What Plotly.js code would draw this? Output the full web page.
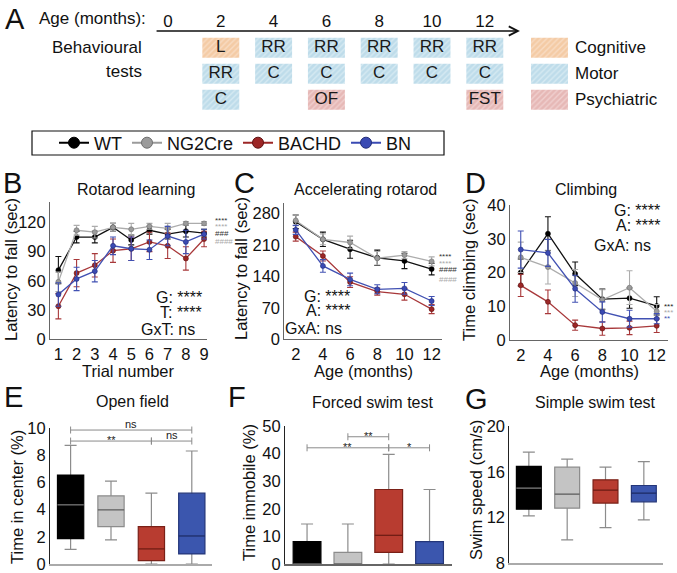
<!DOCTYPE html>
<html><head><meta charset="utf-8">
<script src="https://cdn.plot.ly/plotly-3.0.1.min.js"></script>
<style>html,body{margin:0;padding:0;background:#fff}#chart{width:677px;height:573px}</style>
</head><body><div id="chart"></div>
<script>
// ---------------- DATA ----------------
// Panel A: timeline of behavioural tests
const ageTicks = [0, 2, 4, 6, 8, 10, 12];
const testMonth = [2, 2, 2, 4, 4, 6, 6, 6, 8, 8, 10, 10, 12, 12, 12];
const testRow = [1, 2, 3, 1, 2, 1, 2, 3, 1, 2, 1, 2, 1, 2, 3];
const testLabel = ['L', 'RR', 'C', 'RR', 'C', 'RR', 'C', 'OF', 'RR', 'C', 'RR', 'C', 'RR', 'C', 'FST'];
const testType = ['Cognitive', 'Motor', 'Motor', 'Motor', 'Motor', 'Motor', 'Motor', 'Psychiatric',
                  'Motor', 'Motor', 'Motor', 'Motor', 'Motor', 'Motor', 'Psychiatric'];
const testCategories = ['Cognitive', 'Motor', 'Psychiatric'];

const genotypes = ['WT', 'NG2Cre', 'BACHD', 'BN'];

// Panel B: rotarod learning (sec)
const trials = [1, 2, 3, 4, 5, 6, 7, 8, 9];
const rrlWT = [71, 105, 105, 115, 102, 112, 108, 111, 109];
const rrlWTerr = [14, 6, 6, 4, 5, 4, 5, 6, 4];
const rrlNG = [59, 112, 110, 115, 113, 116, 114, 119, 119];
const rrlNGerr = [10, 5, 6, 4, 6, 3, 5, 2, 2];
const rrlBA = [34, 68, 76, 91, 93, 100, 96, 83, 103];
const rrlBAerr = [13, 14, 12, 12, 12, 10, 13, 12, 8];
const rrlBN = [46, 62, 70, 96, 93, 92, 106, 100, 108];
const rrlBNerr = [12, 12, 11, 9, 12, 10, 10, 12, 5];

// Panel C: accelerating rotarod (sec)
const ages = [2, 4, 6, 8, 10, 12];
const arWT = [261, 222, 200, 181, 174, 156];
const arWTerr = [15, 16, 20, 17, 17, 13];
const arNG = [264, 222, 215, 180, 187, 173];
const arNGerr = [12, 12, 14, 15, 8, 10];
const arBA = [228, 185, 127, 106, 100, 67];
const arBAerr = [10, 11, 12, 8, 13, 10];
const arBN = [243, 163, 133, 111, 113, 85];
const arBNerr = [10, 14, 14, 10, 13, 10];

// Panel D: climbing (sec)
const clWT = [20, 31.5, 19.6, 12.1, 12.4, 10.1];
const clWTerr = [4, 5, 3.5, 3, 3, 2.7];
const clNG = [24.5, 21.6, 16.9, 11.9, 15.5, 8.5];
const clNGerr = [4.5, 5, 4, 3, 5, 2];
const clBA = [16.2, 11.3, 4.4, 3.4, 3.6, 4.2];
const clBAerr = [3.3, 3.5, 1.5, 2, 2, 2];
const clBN = [26.8, 25.8, 15.2, 8.3, 6.3, 6.3];
const clBNerr = [5.5, 4, 4, 3, 2.5, 1.5];

// Panel E: open field, time in center (%)
const ofQ1 = [1.87, 2.75, 0.25, 0.74];
const ofMed = [4.35, 3.98, 1.11, 2.06];
const ofQ3 = [6.54, 5.01, 2.75, 5.21];
const ofLo = [1.08, 1.77, 0, 0];
const ofHi = [8.72, 6.09, 5.21, 8.31];
const ofBrFrom = [0, 0, 2], ofBrTo = [3, 2, 3], ofBrLevel = [9.85, 9.04, 9.04], ofBrLabel = ['ns', '**', 'ns'];

// Panel F: forced swim test, time immobile (%)
const fsQ1 = [0, 0, 4.2, 0];
const fsMed = [0, 0, 10.4, 0];
const fsQ3 = [8.1, 4.2, 27, 8.1];
const fsLo = [0, 0, 0, 0];
const fsHi = [14.5, 14.5, 39.7, 27];
const fsBrFrom = [1, 0, 2], fsBrTo = [2, 2, 3], fsBrLevel = [46.1, 42.1, 42.1], fsBrLabel = ['**', '**', '*'];

// Panel G: simple swim test, swim speed (cm/s)
const ssQ1 = [12.73, 12.82, 13.26, 13.37];
const ssMed = [14.57, 14.04, 14.4, 14.13];
const ssQ3 = [16.47, 16.4, 15.3, 14.8];
const ssLo = [12.15, 10.04, 11.12, 11.8];
const ssHi = [17.72, 17.1, 16.4, 16.88];

// ---------------- STYLE ----------------
const FONT = '"Liberation Sans", Arial, Helvetica, sans-serif';
const W = 677, H = 573;
const px = v => v / W, py = v => 1 - v / H;
const lineCol = {WT: '#111111', NG2Cre: '#acacac', BACHD: '#a8383a', BN: '#4151b3'};
const markFill = {WT: '#000000', NG2Cre: '#9b9b9b', BACHD: '#9c2626', BN: '#3a4ab3'};
const markEdge = {WT: '#000000', NG2Cre: '#6e6e6e', BACHD: '#5e1212', BN: '#222c78'};
const boxFill = ['#000000', '#c4c4c4', '#b83c30', '#3b56ae'];
const boxEdge = ['#000000', '#8c8c8c', '#7a2017', '#243679'];
const medCol = ['#808080', '#5a5a5a', '#6a1a12', '#1c2a62'];
const catBg = {Cognitive: '#f4cba5', Motor: '#bedcea', Psychiatric: '#e6b8b6'};
const catFg = {Cognitive: '#f8dcc3', Motor: '#d6eaf2', Psychiatric: '#f0d0cf'};

const traces = [];
const annotations = [];
const shapes = [];

function ann(text, x, y, o) {
  annotations.push(Object.assign({text: text, x: px(x), y: py(y), xref: 'paper', yref: 'paper',
    showarrow: false, xanchor: 'center', yanchor: 'middle',
    font: {family: FONT, size: 16, color: '#111'}}, o || {}));
}

// ---------------- PANEL A ----------------
const aMonthPx = 26.4, aMonth0 = 168;           // layout scale of the timeline
const rowH = 0.77, boxWm = 1.4, swatchX = 14.45, catTextX = 15.34;
testCategories.forEach((cat, ci) => {
  const xs = [], rows = [];
  testType.forEach((t, i) => { if (t === cat) { xs.push(testMonth[i]); rows.push(testRow[i]); } });
  xs.push(swatchX); rows.push(ci + 1);            // legend swatch
  traces.push({
    type: 'bar', xaxis: 'x10', yaxis: 'y10', showlegend: false, hoverinfo: 'skip',
    x: xs, base: rows.map(r => r - rowH / 2), y: rows.map(() => rowH), width: boxWm,
    marker: {color: catFg[cat], line: {width: 0},
      pattern: {shape: '/', size: 4, solidity: 0.35, fgcolor: catFg[cat], bgcolor: catBg[cat], fillmode: 'replace'}}
  });
});
traces.push({
  type: 'scatter', mode: 'text', xaxis: 'x10', yaxis: 'y10', showlegend: false, hoverinfo: 'skip',
  x: testMonth, y: testRow, text: testLabel, textposition: 'middle center',
  textfont: {family: FONT, size: 17, color: '#1a1a1a'}, cliponaxis: false
});
testCategories.forEach((c, i) => annotations.push({text: c, x: catTextX, y: i + 1, xref: 'x10', yref: 'y10',
  showarrow: false, xanchor: 'left', yanchor: 'middle', font: {family: FONT, size: 17, color: '#111'}}));
annotations.push({text: '', x: 13.33, y: 0.358, xref: 'x10', yref: 'y10', ax: -0.49, ay: 0.358,
  axref: 'x10', ayref: 'y10', showarrow: true, arrowhead: 5, arrowsize: 1.2, arrowwidth: 1.5, arrowcolor: '#111'});
ann('A', 15, 19, {font: {family: FONT, size: 29, color: '#111'}});
ann('Age (months):', 148, 18, {xanchor: 'right', font: {family: FONT, size: 17, color: '#111'}});
ann('Behavioural', 144, 48, {xanchor: 'right', font: {family: FONT, size: 17, color: '#111'}});
ann('tests', 144, 71, {xanchor: 'right', font: {family: FONT, size: 17, color: '#111'}});

// ---------------- LINE PANELS ----------------
function linePanel(xa, ya, xs, sets) {
  genotypes.forEach((g, i) => {
    traces.push({
      type: 'scatter', mode: 'lines+markers', x: xs, y: sets[i][0], xaxis: xa, yaxis: ya,
      showlegend: false, cliponaxis: false,
      line: {color: lineCol[g], width: 1.3},
      marker: {size: 5, color: markFill[g], line: {color: markEdge[g], width: 0.6}},
      error_y: {type: 'data', array: sets[i][1], visible: true, color: lineCol[g], thickness: 1.1, width: 3}
    });
  });
}
linePanel('x', 'y', trials, [[rrlWT, rrlWTerr], [rrlNG, rrlNGerr], [rrlBA, rrlBAerr], [rrlBN, rrlBNerr]]);
linePanel('x2', 'y2', ages, [[arWT, arWTerr], [arNG, arNGerr], [arBA, arBAerr], [arBN, arBNerr]]);
linePanel('x3', 'y3', ages, [[clWT, clWTerr], [clNG, clNGerr], [clBA, clBAerr], [clBN, clBNerr]]);

// legend entries
genotypes.forEach(g => traces.push({
  type: 'scatter', mode: 'lines+markers', x: [null], y: [null], xaxis: 'x', yaxis: 'y', name: g,
  line: {color: g === 'WT' ? '#000' : markFill[g], width: 2},
  marker: {size: 11, color: markFill[g], line: {color: g === 'WT' ? '#000' : markEdge[g], width: 1}}
}));

// ---------------- BOX PANELS ----------------
function boxPanel(xa, ya, oxa, oya, q1, med, q3, lo, hi, bw, br) {
  const idx = q1.map((v, i) => i);
  traces.push({
    type: 'scatter', mode: 'markers', x: idx, y: med, xaxis: xa, yaxis: ya, showlegend: false, hoverinfo: 'skip',
    marker: {size: 1, opacity: 0}, cliponaxis: false,
    error_y: {type: 'data', symmetric: false, visible: true,
      array: hi.map((h, i) => h - med[i]), arrayminus: med.map((m, i) => m - lo[i]),
      color: '#8c8c8c', thickness: 1.2, width: 6}
  });
  traces.push({
    type: 'bar', x: idx, base: q1, y: q3.map((v, i) => v - q1[i]), width: bw, xaxis: oxa, yaxis: oya,
    showlegend: false, hoverinfo: 'skip',
    marker: {color: boxFill, line: {color: boxEdge, width: 1.2}}
  });
  idx.forEach(i => traces.push({
    type: 'scatter', mode: 'markers', x: [i], y: [med[i]], xaxis: oxa, yaxis: oya, showlegend: false,
    hoverinfo: 'skip', marker: {size: 1, opacity: 0}, cliponaxis: false,
    error_x: {type: 'constant', value: bw / 2, visible: true, color: medCol[i], thickness: 1.2, width: 0}
  }));
  if (br) {
    br[0].forEach((a, k) => {
      traces.push({
        type: 'scatter', mode: 'lines+markers', x: [a, br[1][k]], y: [br[2][k], br[2][k]], xaxis: xa, yaxis: ya,
        showlegend: false, hoverinfo: 'skip', cliponaxis: false,
        line: {color: '#8a8a8a', width: 1},
        marker: {symbol: 'line-ns', size: 5, color: '#8a8a8a', line: {color: '#8a8a8a', width: 1}}
      });
      const lab = br[3][k];
      annotations.push({text: lab, x: (a + br[1][k]) / 2, y: br[2][k], xref: xa, yref: ya, showarrow: false,
        xanchor: 'center', yanchor: 'middle', yshift: lab === 'ns' ? 6 : 1,
        font: {family: FONT, size: 11, color: '#222'}});
    });
  }
}
boxPanel('x4', 'y4', 'x7', 'y7', ofQ1, ofMed, ofQ3, ofLo, ofHi, 0.65, [ofBrFrom, ofBrTo, ofBrLevel, ofBrLabel]);
boxPanel('x5', 'y5', 'x8', 'y8', fsQ1, fsMed, fsQ3, fsLo, fsHi, 0.68, [fsBrFrom, fsBrTo, fsBrLevel, fsBrLabel]);
boxPanel('x6', 'y6', 'x9', 'y9', ssQ1, ssMed, ssQ3, ssLo, ssHi, 0.65, null);

// ---------------- TEXT ----------------
const titleF = {family: FONT, size: 16, color: '#111'};
const labF = {family: FONT, size: 29, color: '#111'};
ann('B', 12, 183, {font: labF});
ann('C', 244, 183, {font: labF});
ann('D', 475, 183, {font: labF});
ann('E', 13, 397, {font: labF});
ann('F', 237, 397, {font: labF});
ann('G', 476, 399, {font: labF});
ann('Rotarod learning', 136, 190, {font: titleF});
ann('Accelerating rotarod', 366, 190, {font: titleF});
ann('Climbing', 586, 190, {font: titleF});
ann('Open field', 132, 401, {font: titleF});
ann('Forced swim test', 372, 403, {font: titleF});
ann('Simple swim test', 595, 403, {font: titleF});
const axT = {family: FONT, size: 16.5, color: '#111'};
ann('Trial number', 128, 371, {font: axT});
ann('Age (months)', 363, 371, {font: axT});
ann('Age (months)', 589, 371, {font: axT});
ann('Latency to fall (sec)', 11, 270, {textangle: -90, font: axT});
ann('Latency to fall (sec)', 241, 268, {textangle: -90, font: axT});
ann('Time climbing (sec)', 469, 270, {textangle: -90, font: axT});
ann('Time in center (%)', 17, 497, {textangle: -90, font: axT});
ann('Time immobile (%)', 249, 493, {textangle: -90, font: axT});
ann('Swim speed (cm/s)', 476, 490, {textangle: -90, font: axT});
// statistics
const stF = {family: FONT, size: 16, color: '#111'};
ann('G: ****', 204, 297, {xanchor: 'right', font: stF});
ann('T: ****', 204, 312, {xanchor: 'right', font: stF});
ann('GxT: ns', 197, 329, {xanchor: 'right', font: stF});
ann('G: ****', 352, 296, {xanchor: 'right', font: stF});
ann('A: ****', 352, 310, {xanchor: 'right', font: stF});
ann('GxA: ns', 344, 328, {xanchor: 'right', font: stF});
ann('G: ****', 662, 210, {xanchor: 'right', font: stF});
ann('A: ****', 662, 225, {xanchor: 'right', font: stF});
ann('GxA: ns', 653, 245, {xanchor: 'right', font: stF});
const sm = c => ({xanchor: 'left', font: {family: FONT, size: 8, color: c}});
ann('****', 213, 220, sm('#333')); ann('****', 213, 226, sm('#aaa'));
ann('###', 213, 233, sm('#333')); ann('####', 213, 242, sm('#aaa'));
ann('****', 437, 257, sm('#333')); ann('****', 437, 263, sm('#aaa'));
ann('####', 437, 270, sm('#333')); ann('####', 437, 279, sm('#aaa'));
ann('***', 662, 306, sm('#222')); ann('***', 662, 312, sm('#aaa')); ann('**', 662, 318, sm('#4151b3'));

// legend frame
shapes.push({type: 'rect', xref: 'paper', yref: 'paper', x0: px(32), x1: px(444), y0: py(155), y1: py(131),
  line: {color: '#111', width: 1.2}, fillcolor: 'rgba(0,0,0,0)'});

// ---------------- AXES ----------------
const tickF = {family: FONT, size: 16.5, color: '#111'};
function xax(d0, d1, r, tv, anchor, o) {
  return Object.assign({domain: [px(d0), px(d1)], range: r, tickvals: tv, anchor: anchor, showgrid: false,
    zeroline: false, showline: true, linecolor: '#666', linewidth: 1, ticks: '',
    tickfont: tickF, fixedrange: true}, o || {});
}
function yax(t0, t1, r, tv, anchor, o) {
  return Object.assign({domain: [py(t1), py(t0)], range: r, tickvals: tv, anchor: anchor, showgrid: false,
    zeroline: false, showline: true, linecolor: '#666', linewidth: 1, ticks: '', tickfont: tickF,
    fixedrange: true}, o || {});
}
const hid = (ov, r) => ({overlaying: ov, range: r, visible: false, fixedrange: true});

const layout = {
  width: W, height: H, margin: {l: 0, r: 0, t: 0, b: 0}, paper_bgcolor: '#fff', plot_bgcolor: 'rgba(0,0,0,0)',
  font: {family: FONT, color: '#111'}, barmode: 'overlay', hovermode: false,
  showlegend: true,
  legend: {orientation: 'h', x: px(54), y: py(143), xanchor: 'left', yanchor: 'middle', borderwidth: 0,
    bgcolor: 'rgba(0,0,0,0)', font: {family: FONT, size: 18, color: '#111'}},
  xaxis: xax(50, 207, [0.54, 9.16], trials, 'y'),
  yaxis: yax(202, 339.3, [0, 141], [0, 30, 60, 90, 120], 'x'),
  xaxis2: xax(284.3, 441.7, [1.16, 12.74], ages, 'y2'),
  yaxis2: yax(203.3, 339.3, [0, 302], [0, 70, 140, 210, 280], 'x2'),
  xaxis3: xax(510, 668, [1.21, 12.83], ages, 'y3'),
  yaxis3: yax(205, 340, [0, 40], [0, 10, 20, 30, 40], 'x3'),
  xaxis4: xax(50, 212, [-0.51, 3.5], [], 'y4', {showticklabels: false, linecolor: '#aaa', linewidth: 1.5}),
  yaxis4: yax(428, 564, [0, 10], [0, 2, 4, 6, 8, 10], 'x4', {linecolor: '#222'}),
  xaxis5: xax(285, 452, [-0.54, 3.55], [], 'y5', {showticklabels: false, linecolor: '#666', linewidth: 1.5}),
  yaxis5: yax(426, 564, [0, 50], [0, 10, 20, 30, 40, 50], 'x5', {linecolor: '#222'}),
  xaxis6: xax(509.3, 663, [-0.51, 3.5], [], 'y6', {showticklabels: false, linecolor: '#aaa', linewidth: 1.5}),
  yaxis6: yax(426, 563.3, [8, 20], [8, 12, 16, 20], 'x6', {linecolor: '#222'}),
  xaxis7: hid('x4', [-0.51, 3.5]), yaxis7: hid('y4', [0, 10]),
  xaxis8: hid('x5', [-0.54, 3.55]), yaxis8: hid('y5', [0, 50]),
  xaxis9: hid('x6', [-0.51, 3.5]), yaxis9: hid('y6', [8, 20]),
  xaxis10: {domain: [0, 1], range: [-aMonth0 / aMonthPx, (W - aMonth0) / aMonthPx], anchor: 'y10', side: 'top',
    tickvals: ageTicks, showgrid: false, zeroline: false, showline: false, ticks: '',
    tickfont: {family: FONT, size: 17, color: '#111'}, fixedrange: true},
  yaxis10: {domain: [py(120), py(31)], range: [3.78, 0.358], anchor: 'x10', visible: false, fixedrange: true},
  annotations: annotations, shapes: shapes
};

Plotly.newPlot('chart', traces, layout, {staticPlot: true, displayModeBar: false});
</script>
</body></html>
